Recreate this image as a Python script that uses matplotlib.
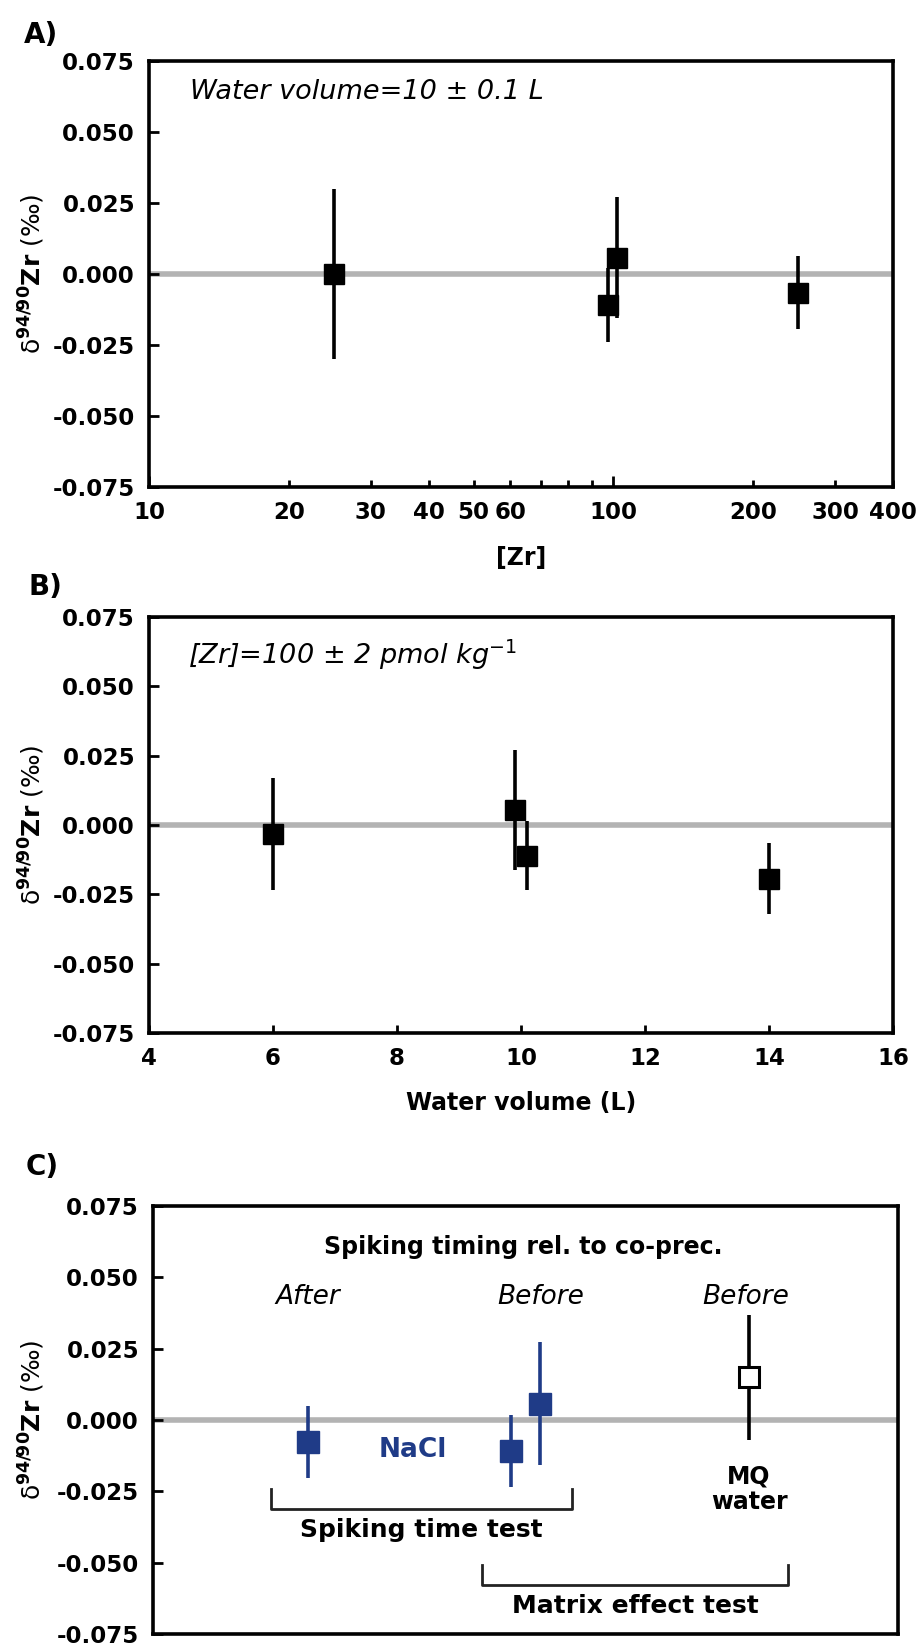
import matplotlib
matplotlib.use('Agg')
import matplotlib.pyplot as plt
from matplotlib.ticker import FixedLocator, FixedFormatter

plt.rcParams['font.family'] = ['DejaVu Sans']
plt.rcParams['mathtext.fontset'] = 'dejavusans'

# ---------------- data ----------------
# Panel A: [Zr] test (water volume = 10 L)
zr_conc = [25, 97.5, 102, 250]
zr_delta = [0.000, -0.011, 0.0057, -0.0066]
zr_err = [0.030, 0.013, 0.0213, 0.0128]

# Panel B: water volume test ([Zr] = 100 pmol/kg)
vol_litres = [6.0, 9.9, 10.1, 14.0]
vol_delta = [-0.0033, 0.0055, -0.0111, -0.0193]
vol_err = [0.0202, 0.0216, 0.0124, 0.0128]

# Panel C: spiking timing / matrix tests
nacl_pos = [2.08, 4.8, 5.2]
nacl_delta = [-0.0076, -0.0109, 0.0057]
nacl_err = [0.0126, 0.0125, 0.0216]
nacl_timing = ['After', 'Before']
nacl_timing_pos = [2.08, 5.2]
mq_pos = [8.0]
mq_delta = [0.015]
mq_err = [0.0219]
mq_timing = ['Before']

yticks = [0.075, 0.050, 0.025, 0.0, -0.025, -0.050, -0.075]
ytick_labels = ['0.075', '0.050', '0.025', '0.000', '-0.025', '-0.050', '-0.075']
a_major = [10, 100]
a_major_labels = ['10', '100']
a_minor = [20, 30, 40, 50, 60, 70, 80, 90, 200, 300, 400]
a_minor_labels = ['20', '30', '40', '50', '60', '', '', '', '200', '300', '400']
b_ticks = [4, 6, 8, 10, 12, 14, 16]

BLUE = '#1f3b87'
GREY = '#b3b3b3'
YLABEL = r'δ$^{\mathbf{94/90}}\mathbf{Zr}$ (‰)'

fig = plt.figure(figsize=(9.19, 16.45), dpi=100)
axA = fig.add_axes([0.1621, 0.7040, 0.8096, 0.2590])
axB = fig.add_axes([0.1621, 0.3720, 0.8096, 0.2529])
axC = fig.add_axes([0.1665, 0.0067, 0.8107, 0.2602])


def style(ax, lab_x):
    for s in ax.spines.values():
        s.set_linewidth(2.6)
    ax.set_ylim(-0.075, 0.075)
    ax.set_yticks(yticks)
    ax.set_yticklabels(ytick_labels)
    ax.tick_params(axis='y', direction='in', length=7.5, width=2,
                   pad=10, labelsize=16.5, right=False)
    for lab in ax.get_yticklabels():
        lab.set_fontweight('bold')
    ax.axhline(0, color=GREY, lw=4, zorder=1)
    ax.set_ylabel(YLABEL, fontsize=18)
    ax.yaxis.set_label_coords(lab_x, 0.5)


# ---------------- Panel A ----------------
style(axA, -0.137)
axA.set_xscale('log')
axA.set_xlim(10, 400)
axA.xaxis.set_major_locator(FixedLocator(a_major))
axA.xaxis.set_major_formatter(FixedFormatter(a_major_labels))
axA.xaxis.set_minor_locator(FixedLocator(a_minor))
axA.xaxis.set_minor_formatter(FixedFormatter(a_minor_labels))
axA.tick_params(axis='x', which='major', direction='in', length=8, width=2,
                pad=10, labelsize=16.5, top=False)
axA.tick_params(axis='x', which='minor', direction='in', length=5, width=2,
                pad=10, labelsize=16.5, top=False)
for lab in axA.get_xticklabels(which='both'):
    lab.set_fontweight('bold')
axA.errorbar(zr_conc, zr_delta, yerr=zr_err, fmt='s', color='k', ms=15,
             elinewidth=2.6, capsize=0, zorder=3)
axA.set_xlabel('[Zr]', fontsize=17, fontweight='bold')
axA.xaxis.set_label_coords(0.5, -0.139)
axA.text(0.055, 0.927, 'Water volume=10 ± 0.1 L', transform=axA.transAxes,
         style='italic', fontsize=19.5, ha='left', va='center')

# ---------------- Panel B ----------------
style(axB, -0.137)
axB.set_xlim(4, 16)
axB.set_xticks(b_ticks)
axB.tick_params(axis='x', direction='in', length=6, width=2, pad=10,
                labelsize=16.5, top=False)
for lab in axB.get_xticklabels():
    lab.set_fontweight('bold')
axB.errorbar(vol_litres, vol_delta, yerr=vol_err, fmt='s', color='k', ms=15,
             elinewidth=2.6, capsize=0, zorder=3)
axB.set_xlabel('Water volume (L)', fontsize=17, fontweight='bold')
axB.xaxis.set_label_coords(0.5, -0.139)
axB.text(0.052, 0.909, r'[Zr]=100 ± 2 pmol kg$^{\mathit{-1}}$',
         transform=axB.transAxes, style='italic', fontsize=19.5,
         ha='left', va='center')

# ---------------- Panel C ----------------
style(axC, -0.142)
axC.set_xlim(0, 10)
axC.set_xticks([])
axC.errorbar(nacl_pos, nacl_delta, yerr=nacl_err, fmt='s', color=BLUE,
             ms=15.5, elinewidth=2.6, capsize=0, zorder=3)
axC.errorbar(mq_pos, mq_delta, yerr=mq_err, fmt='s', color='k', mfc='white',
             mec='k', mew=2.2, ms=14, elinewidth=2.6, capsize=0, zorder=3)

axC.text(4.97, 0.0605, 'Spiking timing rel. to co-prec.', fontsize=17,
         fontweight='bold', ha='center', va='center')
for name, xp in zip(nacl_timing, nacl_timing_pos):
    axC.text(xp, 0.043, name, style='italic', fontsize=19, ha='center', va='center')
axC.text(7.95, 0.043, mq_timing[0], style='italic', fontsize=19,
         ha='center', va='center')
axC.text(3.49, -0.0106, 'NaCl', color=BLUE, fontsize=19, fontweight='bold',
         ha='center', va='center')
axC.text(8.0, -0.0243, 'MQ\nwater', fontsize=17, fontweight='bold',
         ha='center', va='center', linespacing=1.05)

# brackets
axC.plot([1.59, 1.59, 5.62, 5.62], [-0.0243, -0.0311, -0.0311, -0.0243],
         color='#222222', lw=2)
axC.text(3.6, -0.0387, 'Spiking time test', fontsize=18, fontweight='bold',
         ha='center', va='center')
axC.plot([4.42, 4.42, 8.52, 8.52], [-0.051, -0.0578, -0.0578, -0.051],
         color='#222222', lw=2)
axC.text(6.48, -0.0651, 'Matrix effect test', fontsize=18, fontweight='bold',
         ha='center', va='center')

# panel letters
fig.text(41 / 919, 1 - 35 / 1645, 'A)', fontsize=20, fontweight='bold',
         ha='center', va='center')
fig.text(45 / 919, 1 - 587 / 1645, 'B)', fontsize=20, fontweight='bold',
         ha='center', va='center')
fig.text(42 / 919, 1 - 1167 / 1645, 'C)', fontsize=20, fontweight='bold',
         ha='center', va='center')

fig.savefig('out.png', dpi=100)
